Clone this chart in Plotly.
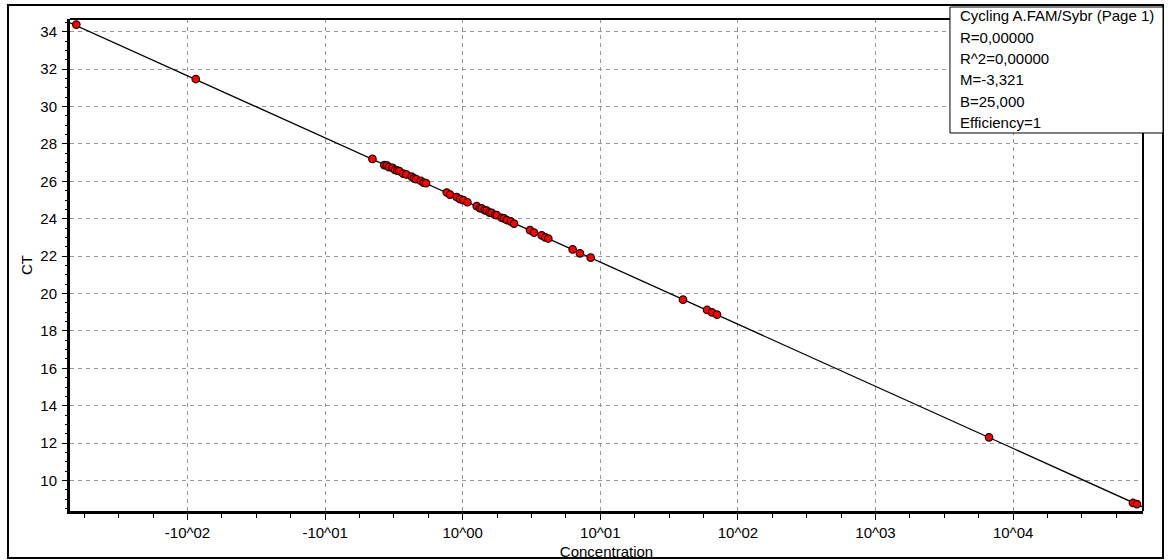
import plotly.graph_objects as go

# ---- data ----
log10_concentration = [-2.808, -1.940, -0.656, -0.570, -0.552, -0.536, -0.510, -0.492, -0.475,
                       -0.461, -0.432, -0.410, -0.371, -0.355, -0.339, -0.305, -0.285, -0.267,
                       -0.116, -0.092, -0.044, -0.020, 0.005, 0.034, 0.102, 0.125, 0.138, 0.160,
                       0.174, 0.195, 0.211, 0.235, 0.247, 0.283, 0.300, 0.320, 0.349, 0.373,
                       0.489, 0.518, 0.574, 0.600, 0.622, 0.799, 0.852, 0.930, 1.601, 1.776,
                       1.812, 1.848, 3.825, 4.871, 4.900]
ct_values = [34.38, 31.47, 27.20, 26.87, 26.85, 26.76, 26.72, 26.61, 26.57,
             26.55, 26.41, 26.37, 26.25, 26.16, 26.12, 26.03, 25.93, 25.90,
             25.40, 25.29, 25.16, 25.05, 24.99, 24.88, 24.67, 24.56, 24.55, 24.46,
             24.43, 24.33, 24.31, 24.20, 24.19, 24.05, 24.02, 23.93, 23.86, 23.74,
             23.39, 23.26, 23.11, 23.00, 22.94, 22.36, 22.15, 21.92, 19.67, 19.12,
             18.99, 18.87, 12.31, 8.80, 8.74]

slope_M = -3.321
intercept_B = 25.0

x_tick_values = [-2, -1, 0, 1, 2, 3, 4]
x_tick_labels = ["-10^02", "-10^01", "10^00", "10^01", "10^02", "10^03", "10^04"]
y_tick_values = [10, 12, 14, 16, 18, 20, 22, 24, 26, 28, 30, 32, 34]

info_lines = ["Cycling A.FAM/Sybr (Page 1)", "R=0,00000", "R^2=0,00000",
              "M=-3,321", "B=25,000", "Efficiency=1"]

x_range = [-2.854, 4.944]
y_range = [8.37, 34.68]

FONT = "Liberation Sans, Arial, sans-serif"

fig = go.Figure()

# regression line across the whole axis range
line_x = [x_range[0], x_range[1]]
line_y = [intercept_B + slope_M * v for v in line_x]
fig.add_trace(go.Scatter(x=line_x, y=line_y, mode="lines",
                         line=dict(color="black", width=1.3),
                         hoverinfo="skip", showlegend=False))

fig.add_trace(go.Scatter(x=log10_concentration, y=ct_values, mode="markers",
                         marker=dict(color="#ff0000", size=7.5,
                                     line=dict(color="#200000", width=1.2)),
                         showlegend=False))

grid_common = dict(gridcolor="#969696", gridwidth=1, griddash="4px,4px")

fig.update_xaxes(range=x_range, tickmode="array", tickvals=x_tick_values,
                 ticktext=x_tick_labels, showline=True, linecolor="black", linewidth=3,
                 ticks="outside", ticklen=6, tickcolor="black", tickwidth=1,
                 minor=dict(dtick=0.25, tick0=0, ticks="outside", ticklen=4,
                            tickcolor="black", showgrid=False),
                 zeroline=False, showgrid=True, **grid_common,
                 tickfont=dict(family=FONT, size=15, color="black"),
                 ticklabelstandoff=0,
                 title=dict(text="Concentration", font=dict(family=FONT, size=15, color="black"),
                            standoff=10),
                 automargin=False)

fig.update_yaxes(range=y_range, tickmode="array", tickvals=y_tick_values,
                 showline=True, linecolor="black", linewidth=3,
                 ticks="outside", ticklen=5, tickcolor="black", tickwidth=1,
                 minor=dict(dtick=0.5, tick0=0, ticks="outside", ticklen=2,
                            tickcolor="black", showgrid=False),
                 zeroline=False, showgrid=True, **grid_common,
                 tickfont=dict(family=FONT, size=15, color="black"),
                 ticklabelstandoff=2,
                 title=dict(text="CT", font=dict(family=FONT, size=15, color="black"),
                            standoff=5),
                 automargin=False)

shapes = [
    # top and right borders of plot area
    dict(type="line", xref="paper", yref="paper", x0=0, x1=1, y0=1, y1=1,
         line=dict(color="black", width=2), layer="above"),
    dict(type="line", xref="paper", yref="paper", x0=1, x1=1, y0=0, y1=1,
         line=dict(color="black", width=2), layer="above"),
    # outer frame
    dict(type="rect", xref="paper", yref="paper", x0=-0.0578, x1=1.01864,
         y0=-0.0955, y1=1.0285, line=dict(color="black", width=2), layer="above"),
    # info box
    dict(type="rect", xref="paper", yref="paper", x0=0.8201, x1=1.01864,
         y0=0.7683, y1=1.02439, line=dict(color="black", width=1),
         fillcolor="white", layer="above"),
]

annotations = []
for i, txt in enumerate(info_lines):
    py = 16 + 21.3 * i
    annotations.append(dict(xref="paper", yref="paper", x=0.8285, y=(511 - py) / 492,
                            xanchor="left", yanchor="middle", text=txt, align="left",
                            showarrow=False, borderpad=0,
                            font=dict(family=FONT, size=15, color="black")))

fig.update_layout(width=1168, height=560,
                  margin=dict(l=70, r=25, t=19, b=49, pad=0),
                  paper_bgcolor="white", plot_bgcolor="white",
                  shapes=shapes, annotations=annotations,
                  showlegend=False)

fig.write_html("out.html")
